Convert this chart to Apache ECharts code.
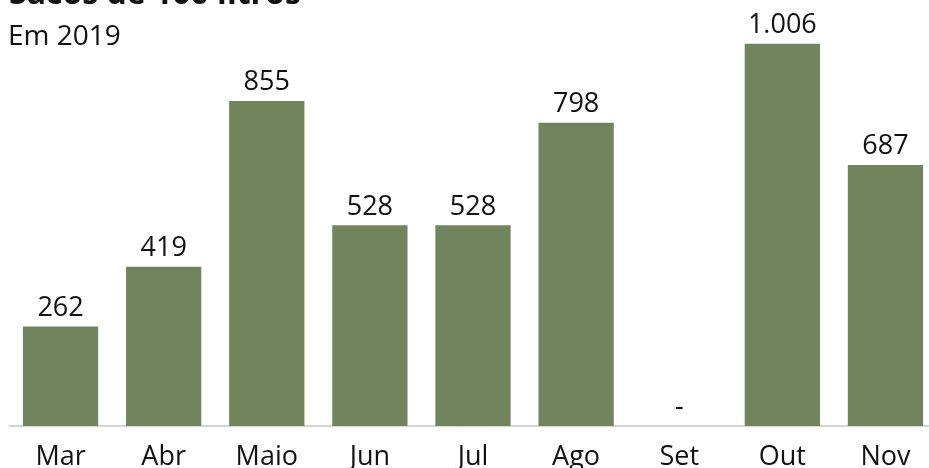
<!DOCTYPE html>
<html><head><meta charset="utf-8">
<script src="https://cdn.jsdelivr.net/npm/echarts@6/dist/echarts.min.js"></script>
<style>html,body{margin:0;padding:0;background:#fff}#c{width:929px;height:468px}</style>
</head><body><div id="c"></div>
<script>
const categories = ['Mar','Abr','Maio','Jun','Jul','Ago','Set','Out','Nov'];
const values = [262, 419, 855, 528, 528, 798, 0, 1006, 687];
const valueLabels = ['262','419','855','528','528','798','-','1.006','687'];
const titleText = 'Sacos de 100 litros';
const subtitleText = 'Em 2019';

const chart = echarts.init(document.getElementById('c'));
chart.setOption({
  animation: false,
  title: [
    {text: titleText, left: 4, top: -26, textStyle: {fontFamily: 'Open Sans', fontWeight: 'bold', fontSize: 32, color: '#111'}},
    {text: subtitleText, left: 3, top: 18, textStyle: {fontFamily: 'Open Sans', fontWeight: 'normal', fontSize: 28, color: '#111'}}
  ],
  grid: {left: 9, right: -8, top: 8, bottom: 42, containLabel: false, outerBoundsMode: 'none'},
  xAxis: {
    type: 'category', data: categories,
    axisLine: {show: true, lineStyle: {color: '#c8c8c8', width: 1.5}},
    axisTick: {show: false},
    axisLabel: {fontFamily: 'Open Sans', fontSize: 27, color: '#111', margin: 18}
  },
  yAxis: {type: 'value', min: 0, max: 1100, show: false, splitLine: {show: false}},
  series: [{
    type: 'bar', data: values, barCategoryGap: '27%',
    itemStyle: {color: '#71845d'},
    label: {show: true, position: 'top', distance: 5, fontFamily: 'Open Sans', fontSize: 27, color: '#111',
      formatter: p => valueLabels[p.dataIndex]}
  }]
});
</script></body></html>
